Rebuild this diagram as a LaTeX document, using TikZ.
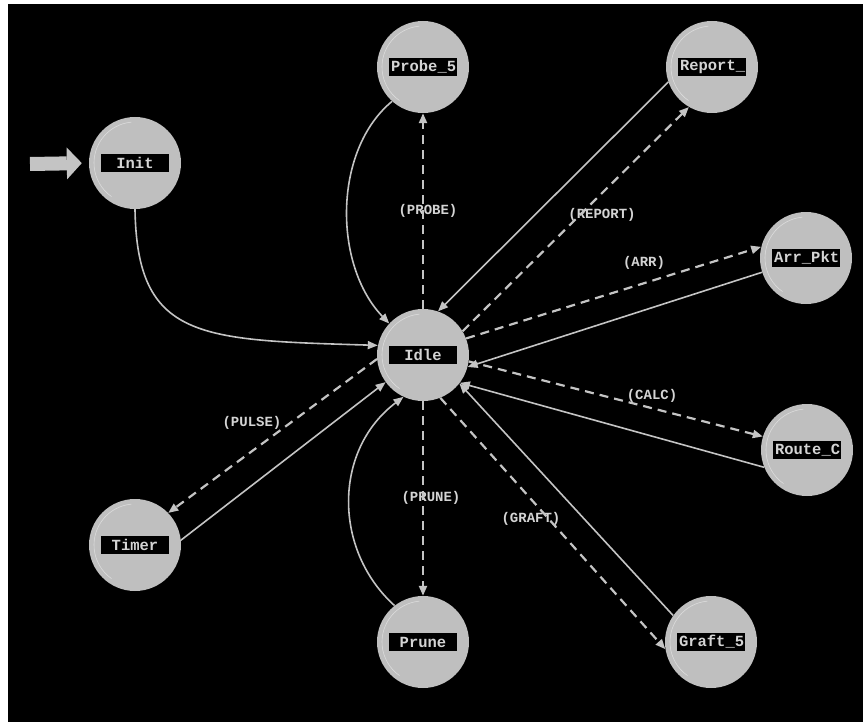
\documentclass[tikz,border=0pt]{standalone}
\usepackage{fontspec}
\setmonofont{Liberation Mono}
\usetikzlibrary{arrows.meta}

\definecolor{stategray}{HTML}{BFBFBF}
\definecolor{linegray}{HTML}{C4C4C4}
\definecolor{textgray}{HTML}{D4D4D4}
\definecolor{hilite}{HTML}{DCDCDC}

\newcommand{\statetag}[1]{{\setlength{\fboxsep}{2pt}\colorbox{black}{\parbox[c][14pt][c]{64pt}{\centering\color{textgray}#1}}}}

\begin{document}
\begin{tikzpicture}[x=1pt, y=-1pt,
  state/.style={circle, fill=stategray, minimum size=92pt, inner sep=0pt,
    font=\ttfamily\bfseries\fontsize{15.5}{15.5}\selectfont,
    path picture={\draw[hilite, line width=0.6pt] (path picture bounding box.center)
      ++(95:41pt) arc[start angle=95, end angle=235, radius=41pt];}},
  move/.style={draw=linegray, line width=1.6pt, -{Triangle[length=10pt, width=8pt]}},
  signal/.style={move, line width=2.2pt, dash pattern=on 9pt off 6pt},
  tag/.style={text=textgray, font=\ttfamily\bfseries\fontsize{14}{14}\selectfont}
]

  \useasboundingbox (0,0) rectangle (863,725);
  \fill[white] (0,0) rectangle (863,725);
  \fill[black] (8,4) rectangle (863,722);

  % states
  \node[state] (init) at (135,163) {\statetag{Init}};
  \node[state] (probe) at (423,67) {\statetag{Probe\_5}};
  \node[state] (report) at (712,67) {\statetag{Report\_}};
  \node[state] (arr) at (806,258) {\statetag{Arr\_Pkt}};
  \node[state] (idle) at (423,355) {\statetag{Idle}};
  \node[state] (route) at (807,450) {\statetag{Route\_C}};
  \node[state] (timer) at (135,545) {\statetag{Timer}};
  \node[state] (prune) at (423,642) {\statetag{Prune}};
  \node[state] (graft) at (711,642) {\statetag{Graft\_5}};

  % transition labels
  \node[tag] (t-probe) at (428,211) {(PROBE)};
  \node[tag] (t-report) at (602,215) {(REPORT)};
  \node[tag] (t-arr) at (644,263) {(ARR)};
  \node[tag] (t-calc) at (652,396) {(CALC)};
  \node[tag] (t-graft) at (531,519) {(GRAFT)};
  \node[tag] (t-prune) at (431,498) {(PRUNE)};
  \node[tag] (t-pulse) at (252,423) {(PULSE)};

  % entry
  \coordinate (entry) at (30,164);
  \draw[linegray, line width=14pt, shorten >=7pt,
    -{Triangle[length=15pt, width=32pt, line width=0pt]}] (entry) -- (init.west);

  % transitions
  \draw[move] (init.270) .. controls (137,340) and (200,340) .. (idle.168);
  \draw[move] (probe.228) .. controls (333,150) and (333,265) .. (idle.137);
  \draw[signal] (idle.90) -- (probe.270);
  \draw[move] (report.199) -- (idle.71);
  \draw[signal] (idle.31) -- (report.240);
  \draw[signal] (idle.21) -- (arr.166);
  \draw[move] (arr.198) -- (idle.345);
  \draw[signal] (idle.352) -- (route.163);
  \draw[move] (route.202) -- (idle.323);
  \draw[signal] (idle.292) -- (graft.189);
  \draw[move] (graft.145) -- (idle.322);
  \draw[signal] (idle.270) -- (prune.90);
  \draw[move] (prune.128) .. controls (333,550) and (333,450) .. (idle.245);
  \draw[signal] (idle.185) -- (timer.44);
  \draw[move] (timer.6) -- (idle.216);

\end{tikzpicture}
\end{document}
